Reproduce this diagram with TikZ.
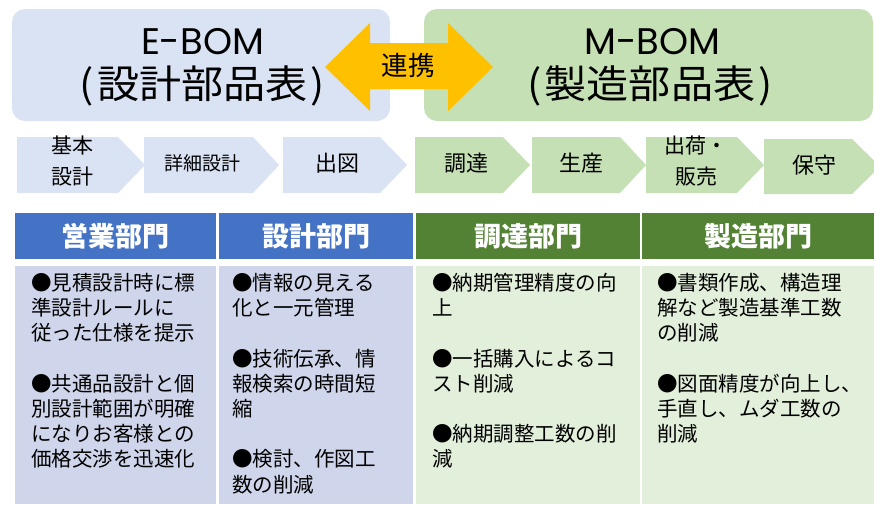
\documentclass[tikz,border=0pt]{standalone}
\usepackage{fontspec}
\setmainfont{Noto Sans CJK JP}
\newfontfamily\titlelatin{Poppins}
\newfontfamily\titlejp[FakeStretch=1.08]{Noto Sans CJK JP}
\definecolor{boxblue}{HTML}{DAE3F3}
\definecolor{boxgreen}{HTML}{C5E0B4}
\definecolor{hdrblue}{HTML}{4472C4}
\definecolor{hdrgreen}{HTML}{548235}
\definecolor{bodyblue}{HTML}{CFD5EA}
\definecolor{bodygreen}{HTML}{E2EFDA}
\definecolor{linkyellow}{HTML}{FFC000}
\tikzset{
  topbox/.style={rounded corners=13pt, inner sep=0pt, minimum height=112pt},
  titleA/.style={inner sep=0pt, font=\titlelatin\fontsize{37}{40}\selectfont},
  titleB/.style={inner sep=0pt, font=\titlejp\fontsize{39}{44}\selectfont},
  steptext/.style={inner sep=0pt, align=center, font=\fontsize{22}{31}\selectfont},
  hdr/.style={inner sep=0pt, minimum height=46pt, text=white, font=\bfseries\fontsize{27}{30}\selectfont},
  bodybox/.style={inner sep=0pt, minimum height=238pt},
  bodytext/.style={inner sep=0pt, anchor=north west, align=left, font=\fontsize{20.5}{25.2}\selectfont},
}
\begin{document}
\begin{tikzpicture}[x=1pt,y=-1pt]
\useasboundingbox[fill=white] (0,0) rectangle (874,504);
% top boxes
\node[topbox, fill=boxblue, minimum width=378pt] (ebom) at (201,65) {};
\node[topbox, fill=boxgreen, minimum width=449pt] (mbom) at (648.5,65) {};
\node[titleA] (ebomA) at (202.5,41.5) {E-BOM};
\node[titleB] (ebomB) at (202.5,86) {(\hspace{3pt}設計部品表\hspace{3pt})};
\node[titleA] (mbomA) at (652.5,41.5) {M-BOM};
\node[titleB] (mbomB) at (650,86) {(\hspace{3pt}製造部品表\hspace{3pt})};
% double arrow
\fill[linkyellow] (325,67) -- (370,23) -- (370,43) -- (448,43) -- (448,23) -- (493,67)
  -- (448,111) -- (448,89) -- (370,89) -- (370,111) -- cycle;
\node[inner sep=0pt, font=\fontsize{26.5}{30}\selectfont] (link) at (408,65) {連携};
% process steps
\fill[boxblue] (17,137) -- (118,137) -- (145,165) -- (118,193) -- (17,193) -- cycle;
\node[steptext, font=\fontsize{21}{31}\selectfont] (s1) at (72,161) {基本\\設計};
\fill[boxblue] (144,137) -- (253,137) -- (279,165) -- (253,193) -- (144,193) -- cycle;
\node[steptext, font=\fontsize{19}{24}\selectfont] (s2) at (202,163) {詳細設計};
\fill[boxblue] (283,137) -- (380,137) -- (407,165) -- (380,193) -- (283,193) -- cycle;
\node[steptext] (s3) at (337,163) {出図};
\fill[boxgreen] (415,137) -- (503,137) -- (530,165) -- (503,193) -- (415,193) -- cycle;
\node[steptext] (s4) at (466,163) {調達};
\fill[boxgreen] (532,137) -- (620,137) -- (646,165) -- (620,193) -- (532,193) -- cycle;
\node[steptext] (s5) at (581,163) {生産};
\fill[boxgreen] (646,137) -- (737,137) -- (764,165) -- (737,193) -- (646,193) -- cycle;
\node[steptext, font=\fontsize{21}{31}\selectfont] (s6) at (696,161) {出荷・\\販売};
\fill[boxgreen] (764,139) -- (852,139) -- (880,166.5) -- (852,194) -- (764,194) -- cycle;
\node[steptext] (s7) at (814,165) {保守};
% table headers
\node[hdr, fill=hdrblue, minimum width=201pt] (h1) at (115.5,236) {営業部門};
\node[hdr, fill=hdrblue, minimum width=194pt] (h2) at (316,236) {設計部門};
\node[hdr, fill=hdrgreen, minimum width=224pt] (h3) at (528,236) {調達部門};
\node[hdr, fill=hdrgreen, minimum width=232pt] (h4) at (758,236) {製造部門};
% table bodies
\node[bodybox, fill=bodyblue, minimum width=201pt] (b1) at (115.5,385) {};
\node[bodybox, fill=bodyblue, minimum width=194pt] (b2) at (316,385) {};
\node[bodybox, fill=bodygreen, minimum width=224pt] (b3) at (528,385) {};
\node[bodybox, fill=bodygreen, minimum width=232pt] (b4) at (758,385) {};
\node[bodytext] (t1) at (31,273) {●見積設計時に標\\準設計ルールに\\従った仕様を提示\\[25.2pt]●共通品設計と個\\別設計範囲が明確\\になりお客様との\\価格交渉を迅速化};
\node[bodytext] (t2) at (232,273) {●情報の見える\\化と一元管理\\[25.2pt]●技術伝承、情\\報検索の時間短\\縮\\[25.2pt]●検討、作図工\\数の削減};
\node[bodytext] (t3) at (432,273) {●納期管理精度の向\\上\\[25.2pt]●一括購入によるコ\\スト削減\\[25.2pt]●納期調整工数の削\\減};
\node[bodytext] (t4) at (657,273) {●書類作成、構造理\\解など製造基準工数\\の削減\\[25.2pt]●図面精度が向上し、\\手直し、ムダ工数の\\削減};
\end{tikzpicture}
\end{document}
